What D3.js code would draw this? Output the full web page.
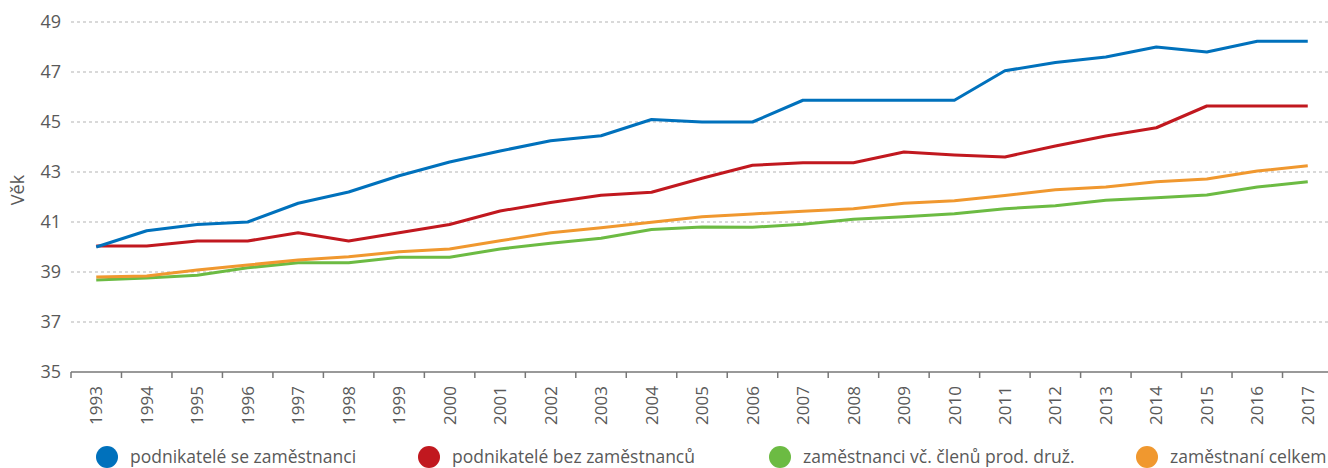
<!DOCTYPE html>
<html>
<head>
<meta charset="utf-8">
<script src="https://cdn.jsdelivr.net/npm/d3@7"></script>
<style>
  body { margin: 0; background: #fff; }
  svg { display: block; font-family: "Open Sans", sans-serif; }
</style>
</head>
<body>
<div id="chart"></div>
<script>
const years = ['1993','1994','1995','1996','1997','1998','1999','2000','2001','2002','2003','2004','2005',
  '2006','2007','2008','2009','2010','2011','2012','2013','2014','2015','2016','2017'];

const sZam = [40.0, 40.65, 40.9, 41.0, 41.75, 42.2, 42.85, 43.4, 43.84, 44.25, 44.45, 45.1, 45.0,
  45.0, 45.87, 45.87, 45.87, 45.87, 47.05, 47.38, 47.6, 48.0, 47.8, 48.23, 48.23];
const bezZam = [40.04, 40.04, 40.24, 40.24, 40.57, 40.24, 40.57, 40.9, 41.44, 41.78, 42.07, 42.19, 42.75,
  43.27, 43.37, 43.37, 43.8, 43.68, 43.6, 44.04, 44.44, 44.77, 45.64, 45.64, 45.64];
const zamVc = [38.68, 38.76, 38.87, 39.17, 39.37, 39.37, 39.59, 39.59, 39.92, 40.15, 40.35, 40.7, 40.8,
  40.79, 40.91, 41.11, 41.21, 41.33, 41.53, 41.65, 41.87, 41.97, 42.08, 42.4, 42.61];
const zamCelkem = [38.8, 38.84, 39.08, 39.28, 39.48, 39.61, 39.81, 39.92, 40.25, 40.57, 40.77, 40.99, 41.21,
  41.32, 41.43, 41.53, 41.75, 41.85, 42.06, 42.29, 42.4, 42.61, 42.72, 43.04, 43.25];

const yTicks = [35, 37, 39, 41, 43, 45, 47, 49];
const seriesNames = ['podnikatelé se zaměstnanci', 'podnikatelé bez zaměstnanců',
  'zaměstnanci vč. členů prod. druž.', 'zaměstnaní celkem'];
const colors = ['#0071bc', '#c1181f', '#6cbb43', '#f0982f'];

const width = 1328, height = 468;
const svg = d3.select('#chart').append('svg').attr('width', width).attr('height', height);

const x = d3.scaleBand().domain(years).range([71, 1333]);
const y = d3.scaleLinear().domain([35, 49]).range([372, 22]);

// gridlines
svg.append('g')
  .selectAll('line')
  .data(yTicks.filter(d => d !== 35))
  .enter().append('line')
  .attr('x1', 71).attr('x2', width)
  .attr('y1', d => y(d)).attr('y2', d => y(d))
  .attr('stroke', '#b3b3b3').attr('stroke-width', 1)
  .attr('stroke-dasharray', '3,3');

// y labels
svg.append('g')
  .selectAll('text')
  .data(yTicks)
  .enter().append('text')
  .attr('x', 61).attr('y', d => y(d))
  .attr('dy', '0.36em')
  .attr('text-anchor', 'end')
  .attr('fill', '#595959')
  .style('font-size', '18px')
  .text(d => d);

svg.append('text')
  .attr('transform', 'translate(24,190) rotate(-90)')
  .attr('text-anchor', 'middle')
  .attr('fill', '#595959')
  .style('font-size', '18px')
  .text('Věk');

// x axis
const xAxis = svg.append('g').attr('transform', `translate(0,${y(35)})`);
xAxis.append('line')
  .attr('x1', 71).attr('x2', width)
  .attr('stroke', '#777').attr('stroke-width', 1.5);
xAxis.selectAll('.tick')
  .data(years)
  .enter().append('line')
  .attr('x1', d => x(d)).attr('x2', d => x(d))
  .attr('y1', 0).attr('y2', 6)
  .attr('stroke', '#777').attr('stroke-width', 1.5);
xAxis.selectAll('text')
  .data(years)
  .enter().append('text')
  .attr('transform', d => `translate(${x(d) + x.bandwidth() / 2},14) rotate(-90)`)
  .attr('text-anchor', 'end')
  .attr('dy', '0.36em')
  .attr('fill', '#595959')
  .style('font-size', '17px')
  .text(d => d);

// lines
const allSeries = [sZam, bezZam, zamVc, zamCelkem];
const line = d3.line()
  .x((d, i) => x(years[i]) + x.bandwidth() / 2)
  .y(d => y(d));

[2, 3, 1, 0].forEach(k => {
  svg.append('path')
    .datum(allSeries[k])
    .attr('fill', 'none')
    .attr('stroke', colors[k])
    .attr('stroke-width', 3)
    .attr('stroke-linejoin', 'round')
    .attr('d', line);
});

// legend
const legendX = [107, 429, 780, 1147];
const legend = svg.append('g').selectAll('g')
  .data(seriesNames)
  .enter().append('g')
  .attr('transform', (d, i) => `translate(${legendX[i]},457)`);
legend.append('circle').attr('r', 11).attr('fill', (d, i) => colors[i]);
legend.append('text')
  .attr('x', 23).attr('y', 6)
  .attr('fill', '#595959')
  .style('font-size', '17.5px')
  .text(d => d);
</script>
</body>
</html>
